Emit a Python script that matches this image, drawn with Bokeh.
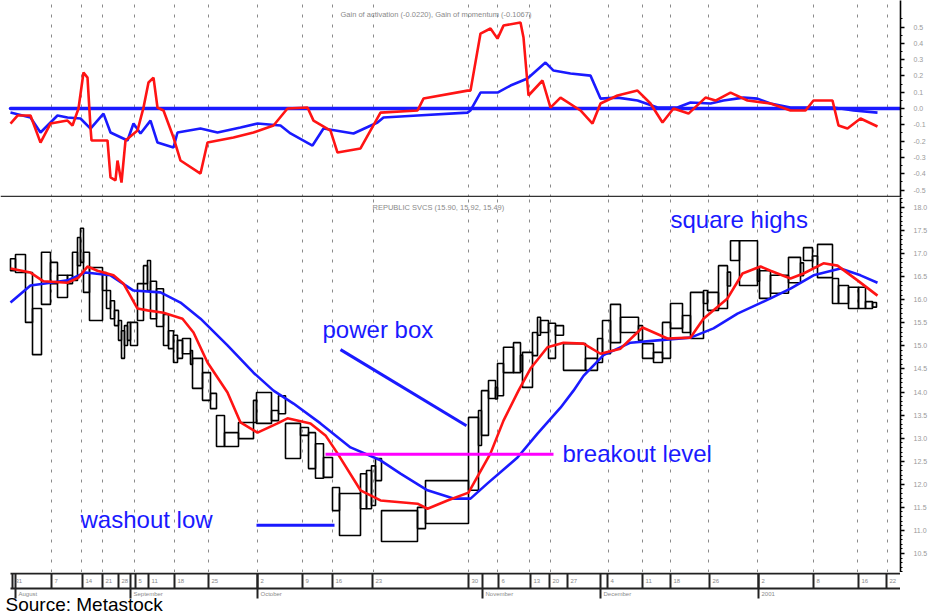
import numpy as np
from bokeh.plotting import figure
from bokeh.layouts import column
from bokeh.models import Range1d, FixedTicker, NumeralTickFormatter, Span, Grid
from bokeh.core.properties import value
from bokeh.embed import file_html
from bokeh.resources import INLINE

FONT = "Liberation Sans"
BLUE = "#1a1aff"
RED = "#ff1414"
MAGENTA = "#ff00ff"

# ---------------- data ----------------
# equivolume boxes: width = volume (arbitrary units), high / low price
box_volume = [5, 10, 7, 9, 9, 7, 10, 5, 5, 3, 3, 6, 13, 4, 4, 4, 4, 3, 3, 3, 3, 7, 6, 4, 3,
              6, 7, 5, 5, 4, 5, 8, 2, 10, 8, 6, 8, 14, 15, 3, 15, 7, 7, 15, 8, 7, 8, 9, 7, 21,
              6, 5, 4, 6, 36, 8, 43, 10, 3, 7, 7, 2, 6, 10, 7, 2, 10, 5, 3, 8, 7, 8, 22, 12, 5,
              8, 10, 18, 4, 11, 9, 8, 12, 8, 13, 4, 11, 9, 3, 9, 18, 2, 11, 18, 12, 3, 9, 5, 15,
              6, 10, 10, 7, 7, 4]
box_high = [16.89, 16.98, 16.59, 15.81, 17.03, 16.81, 16.53, 16.53, 17.03, 17.35, 17.55, 17.03,
            16.70, 16.59, 16.20, 15.98, 15.77, 15.55, 15.33, 15.44, 15.51, 15.51, 16.35, 16.74,
            16.85, 16.40, 16.24, 15.68, 15.33, 15.23, 15.12, 15.16, 14.90, 14.73, 14.42, 13.97,
            13.49, 13.12, 13.34, 13.82, 13.99, 13.60, 13.92, 13.32, 13.23, 13.12, 12.88, 12.58,
            11.93, 11.80, 12.23, 12.30, 12.40, 12.56, 11.43, 11.50, 12.08, 13.45, 13.60, 14.03,
            14.25, 14.10, 14.62, 14.97, 15.07, 14.80, 14.86, 15.29, 15.62, 15.55, 15.49, 15.44,
            15.05, 14.73, 15.16, 15.55, 15.90, 15.62, 15.44, 15.05, 14.86, 15.51, 15.92, 15.66,
            16.16, 16.20, 16.16, 16.74, 16.60, 17.28, 17.28, 16.70, 16.63, 16.53, 16.92, 16.80,
            17.13, 16.95, 17.20, 16.46, 16.31, 16.27, 16.27, 15.96, 15.94]
box_low = [16.63, 16.59, 15.51, 14.81, 15.90, 16.35, 16.05, 16.35, 16.42, 16.74, 16.81, 16.16,
           15.55, 16.20, 15.81, 15.59, 15.44, 15.12, 14.73, 15.01, 15.12, 15.01, 15.55, 16.35,
           16.20, 15.59, 15.42, 15.01, 14.94, 14.64, 14.73, 14.83, 14.60, 14.08, 13.82, 13.64,
           12.82, 12.82, 12.99, 13.34, 13.32, 13.38, 13.53, 12.56, 13.06, 12.34, 12.13, 12.15,
           11.43, 10.89, 11.47, 11.47, 11.54, 12.08, 10.76, 11.04, 11.15, 11.87, 12.84, 13.06,
           13.86, 13.85, 13.92, 14.42, 14.42, 14.45, 14.10, 14.79, 15.23, 15.29, 14.73, 15.23,
           14.47, 14.47, 14.64, 14.83, 15.07, 15.29, 15.12, 14.73, 14.64, 14.73, 15.38, 15.29,
           15.16, 15.92, 15.77, 15.81, 16.30, 16.85, 16.31, 16.40, 16.03, 16.14, 16.37, 16.52,
           16.85, 16.70, 16.48, 15.92, 15.92, 15.81, 15.81, 15.81, 15.84]

# fast (red) and slow (blue) moving averages of price
fast_x = [0, 20, 33, 57, 68, 77, 87, 103, 113, 127, 137, 153, 172, 183, 197, 217, 230, 247, 267, 277,
          300, 315, 327, 350, 370, 407, 417, 437, 458, 480, 493, 508, 520, 537, 553, 573, 590, 610,
          632, 657, 680, 693, 717, 732, 750, 760, 780, 793, 813, 827, 847, 867]
fast_ma = [16.68, 16.59, 16.40, 16.37, 16.48, 16.72, 16.63, 16.53, 16.35, 15.81, 15.77, 15.72, 15.59,
           15.29, 14.64, 13.99, 13.34, 13.12, 13.32, 13.43, 13.32, 13.06, 12.67, 11.87, 11.65, 11.58,
           11.47, 11.65, 11.82, 12.67, 13.38, 14.03, 14.51, 14.97, 15.07, 15.05, 14.83, 14.94, 15.40,
           15.16, 15.18, 15.59, 16.03, 16.57, 16.72, 16.63, 16.46, 16.57, 16.79, 16.74, 16.42, 16.09]
slow_x = [0, 20, 40, 57, 75, 100, 123, 150, 170, 190, 217, 243, 263, 283, 310, 340, 370, 390, 417, 443,
          460, 477, 507, 527, 550, 563, 573, 593, 620, 647, 680, 703, 727, 760, 780, 803, 830, 850, 867]
slow_ma = [15.94, 16.31, 16.37, 16.42, 16.59, 16.53, 16.20, 16.16, 15.94, 15.59, 15.01, 14.42, 14.03,
           13.75, 13.32, 12.80, 12.52, 12.23, 11.87, 11.69, 11.69, 12.02, 12.58, 13.10, 13.66, 14.03,
           14.35, 14.80, 15.07, 15.12, 15.18, 15.38, 15.70, 16.03, 16.24, 16.53, 16.68, 16.53, 16.37]

# upper indicator panel
ind_red_x = [0, 7, 20, 30, 40, 57, 62, 68, 73, 77, 80, 81, 97, 100, 105, 107, 111, 115, 127, 133,
             138, 143, 147, 153, 163, 170, 190, 197, 223, 243, 263, 277, 297, 303, 320, 327, 350, 370,
             407, 413, 457, 460, 470, 480, 487, 493, 510, 513, 518, 532, 540, 550, 570, 582, 590, 607,
             627, 640, 652, 663, 678, 695, 705, 720, 737, 760, 780, 795, 803, 822, 828, 837, 850, 867]
ind_red = [-0.092, -0.043, -0.043, -0.209, -0.092, -0.074, -0.104, 0.0, 0.221, 0.190, -0.117, -0.196,
           -0.196, -0.423, -0.441, -0.319, -0.454, -0.196, -0.135, 0.006, 0.160, 0.190, 0.006, -0.012,
           -0.178, -0.319, -0.399, -0.209, -0.178, -0.147, -0.104, 0.0, 0.006, -0.074, -0.135, -0.270,
           -0.245, -0.025, -0.012, 0.061, 0.110, 0.110, 0.460, 0.491, 0.429, 0.509, 0.528, 0.436, 0.080,
           0.172, 0.006, 0.067, -0.012, -0.092, 0.031, 0.080, 0.110, 0.031, -0.086, 0.0, -0.031, 0.067,
           0.049, 0.098, 0.049, 0.031, -0.012, -0.012, 0.049, 0.049, -0.104, -0.123, -0.061, -0.110]
ind_blue_x = [0, 20, 30, 47, 57, 70, 80, 93, 100, 117, 123, 130, 140, 147, 163, 167, 190, 207, 230, 247,
              270, 280, 302, 313, 343, 367, 373, 407, 457, 460, 470, 487, 500, 517, 535, 543, 560, 580,
              590, 607, 627, 647, 667, 680, 700, 713, 733, 747, 760, 780, 803, 823, 843, 867]
ind_blue = [-0.025, -0.055, -0.147, -0.043, -0.055, -0.061, -0.123, -0.031, -0.147, -0.196, -0.092,
            -0.153, -0.074, -0.209, -0.239, -0.147, -0.123, -0.147, -0.117, -0.092, -0.104, -0.153,
            -0.227, -0.123, -0.153, -0.086, -0.055, -0.043, -0.025, -0.012, 0.098, 0.098, 0.141, 0.184,
            0.282, 0.233, 0.215, 0.202, 0.061, 0.067, 0.049, 0.006, 0.006, 0.037, 0.031, 0.049, 0.067,
            0.061, 0.031, 0.006, 0.006, 0.006, -0.012, -0.025]

top_ticks = [-0.5, -0.4, -0.3, -0.2, -0.1, 0.0, 0.1, 0.2, 0.3, 0.4, 0.5]
price_ticks = [10.5, 11.0, 11.5, 12.0, 12.5, 13.0, 13.5, 14.0, 14.5, 15.0, 15.5, 16.0, 16.5, 17.0, 17.5, 18.0]

grid_x = [41, 71, 92, 124, 164, 198, 247, 292, 322, 363, 458, 487, 519, 540, 598, 632, 660, 698, 747,
          803, 847, 877]
week_x = [2, 41, 72, 92, 108, 125, 138, 164, 198, 247, 292, 322, 362, 458, 488, 520, 539, 557, 597,
          632, 660, 699, 748, 803, 848, 876]
week_labels = ["31", "7", "14", "21", "28", "5", "11", "18", "25", "2", "9", "16", "23", "30", "6", "13",
               "20", "27", "4", "11", "18", "26", "2", "8", "16", "22"]
month_x = [5, 120, 247, 472, 590, 748]
month_labels = ["August", "September", "October", "November", "December", "2001"]

note_text = ["square highs", "power box", "breakout level", "washout low"]
note_x = [660, 312, 552, 70]
note_y = [17.74, 15.35, 12.67, 11.23]
power_x = [330, 456]
power_y = [14.92, 13.27]
washout_x = [246, 324]
washout_y = [11.11, 11.11]
breakout_x = [315, 543]
breakout_y = [12.65, 12.65]

top_title = "Gain of activation (-0.0220), Gain of momentum (-0.1067)"
price_title = "REPUBLIC SVCS (15.90, 15.92, 15.49)"
source_text = "Source: Metastock"

# ---------------- layout ----------------
xr = Range1d(-10, 890)
FW = 900


def style_axis(p, ticks, minor):
    ax = p.yaxis[0]
    ax.ticker = FixedTicker(ticks=ticks, minor_ticks=minor)
    ax.formatter = NumeralTickFormatter(format="0.0")
    ax.axis_line_color = "black"
    ax.axis_line_width = 1.6
    ax.major_tick_line_color = "black"
    ax.major_tick_line_width = 1.6
    ax.major_tick_out = 4
    ax.major_tick_in = 0
    ax.minor_tick_line_color = "black"
    ax.minor_tick_out = 2
    ax.minor_tick_in = 0
    ax.major_label_text_font = FONT
    ax.major_label_text_font_size = "7px"
    ax.major_label_text_color = "#9a9a9a"
    ax.major_label_standoff = 9


def make_fig(h, yr):
    p = figure(frame_width=FW, frame_height=h, x_range=xr, y_range=yr,
               toolbar_location=None, output_backend="svg",
               x_axis_location=None, y_axis_location="right",
               min_border_left=0, min_border_right=0, min_border_top=0, min_border_bottom=0)
    p.outline_line_color = None
    p.grid.visible = False
    p.add_layout(Grid(dimension=0, ticker=FixedTicker(ticks=grid_x),
                      grid_line_color="#8a8a8a", grid_line_dash="3 7", grid_line_width=1))
    return p


# top indicator panel
p1 = make_fig(197, Range1d(-0.546, 0.663))
style_axis(p1, top_ticks, list(np.round(np.arange(-0.55, 0.6, 0.05), 3)))
p1.line([min(ind_blue_x), xr.end], [0.0, 0.0], line_color=BLUE, line_width=3.5, line_cap="round")
p1.line(ind_blue_x, ind_blue, line_color=BLUE, line_width=2.6)
p1.line(ind_red_x, ind_red, line_color=RED, line_width=2.6)
p1.text(x=[330], y=[0.577], text=[top_title], text_font=value(FONT), text_font_size="7.5px",
        text_color="#8a8a8a", text_baseline="middle")
p1.add_layout(Span(location=-0.541, dimension="width", line_color="#333333", line_width=2))

# price panel
p2 = make_fig(375, Range1d(10.088, 18.217))
style_axis(p2, price_ticks, list(np.round(np.arange(10.1, 18.21, 0.1), 2)))
edges = np.concatenate([[0], np.cumsum(box_volume)])
p2.quad(left=edges[:-1], right=edges[1:], top=box_high, bottom=box_low,
        fill_color=None, line_color="black", line_width=1.6)
p2.line(slow_x, slow_ma, line_color=BLUE, line_width=2.6)
p2.line(fast_x, fast_ma, line_color=RED, line_width=2.6)
p2.line(power_x, power_y, line_color=BLUE, line_width=3)
p2.line(washout_x, washout_y, line_color=BLUE, line_width=3)
p2.line(breakout_x, breakout_y, line_color=MAGENTA, line_width=3)
p2.text(x=note_x, y=note_y, text=note_text, text_font=value(FONT), text_font_size="24px",
        text_color=BLUE, text_baseline="alphabetic")
p2.text(x=[362], y=[18.0], text=[price_title], text_font=value(FONT), text_font_size="7.5px",
        text_color="#8a8a8a", text_baseline="middle")

# date strip
s = figure(frame_width=FW, frame_height=42, x_range=xr, y_range=Range1d(0, 42),
           toolbar_location=None, output_backend="svg",
           x_axis_location=None, y_axis_location=None,
           min_border_left=0, min_border_right=0, min_border_top=0, min_border_bottom=0)
s.outline_line_color = None
s.grid.visible = False
s.segment(x0=[0, 0], y0=[41, 26], x1=[893, 893], y1=[41, 26], line_color="#222222", line_width=2.2)
s.segment(x0=week_x, y0=26, x1=week_x, y1=41, line_color="#222222", line_width=2)
s.segment(x0=month_x, y0=16, x1=month_x, y1=41, line_color="#222222", line_width=2)
s.text(x=np.array(week_x) + 3, y=33.5, text=week_labels, text_font=value(FONT), text_font_size="6px",
       text_color="#8a8a8a", text_baseline="middle")
s.text(x=np.array(month_x) + 3, y=21, text=month_labels, text_font=value(FONT), text_font_size="6px",
       text_color="#8a8a8a", text_baseline="middle")
s.text(x=[-5], y=[0], text=[source_text], text_font=value(FONT), text_font_size="19px",
       text_color="black", text_baseline="bottom")

layout = column(p1, p2, s, spacing=0)
open("out.html", "w").write(file_html(layout, INLINE))
